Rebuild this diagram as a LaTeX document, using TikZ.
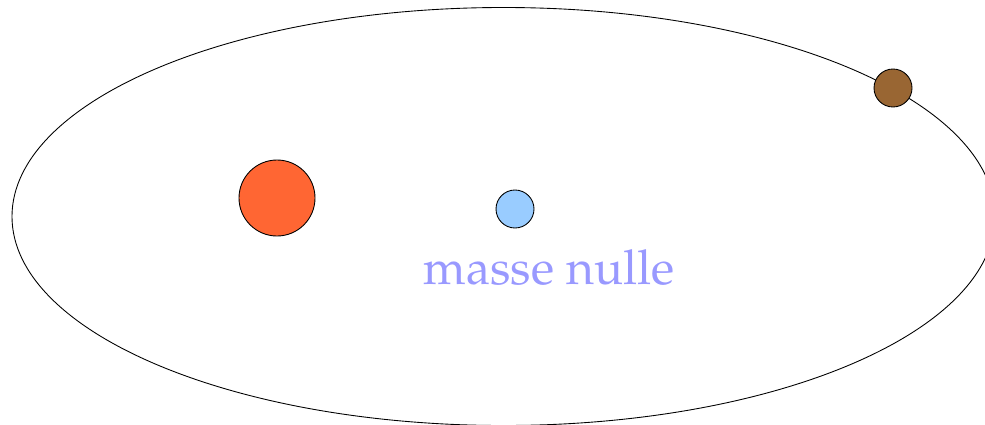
\documentclass[tikz,border=0pt]{standalone}
\usepackage[T1]{fontenc}
\usepackage{mathpazo}
\usepackage{tikz}
\usepackage{xcolor}
\definecolor{star}{HTML}{FF6633}
\definecolor{probe}{HTML}{99CCFF}
\definecolor{planet}{HTML}{996633}
\definecolor{label}{HTML}{9999FF}
\tikzset{
  body/.style={circle,draw=black,line width=0.5pt,fill=#1,inner sep=0pt},
  orbit/.style={draw=black,line width=0.5pt}
}
\begin{document}
\begin{tikzpicture}
  \useasboundingbox (0,0) rectangle (19.7,8.48);
  \clip (0,0) rectangle (19.7,8.48);
  \draw[orbit] (10.07,4.15) ellipse [x radius=9.83cm,y radius=4.18cm];
  \node[body=star,minimum size=1.52cm] (sun) at (5.54,4.52) {};
  \node[body=probe,minimum size=0.76cm] (probe) at (10.3,4.3) {};
  \node[body=planet,minimum size=0.76cm] (planet) at (17.86,6.72) {};
  \node[text=label,font=\fontsize{27.4}{32}\selectfont] (mass) at (10.98,3.12) {masse nulle};
\end{tikzpicture}
\end{document}
